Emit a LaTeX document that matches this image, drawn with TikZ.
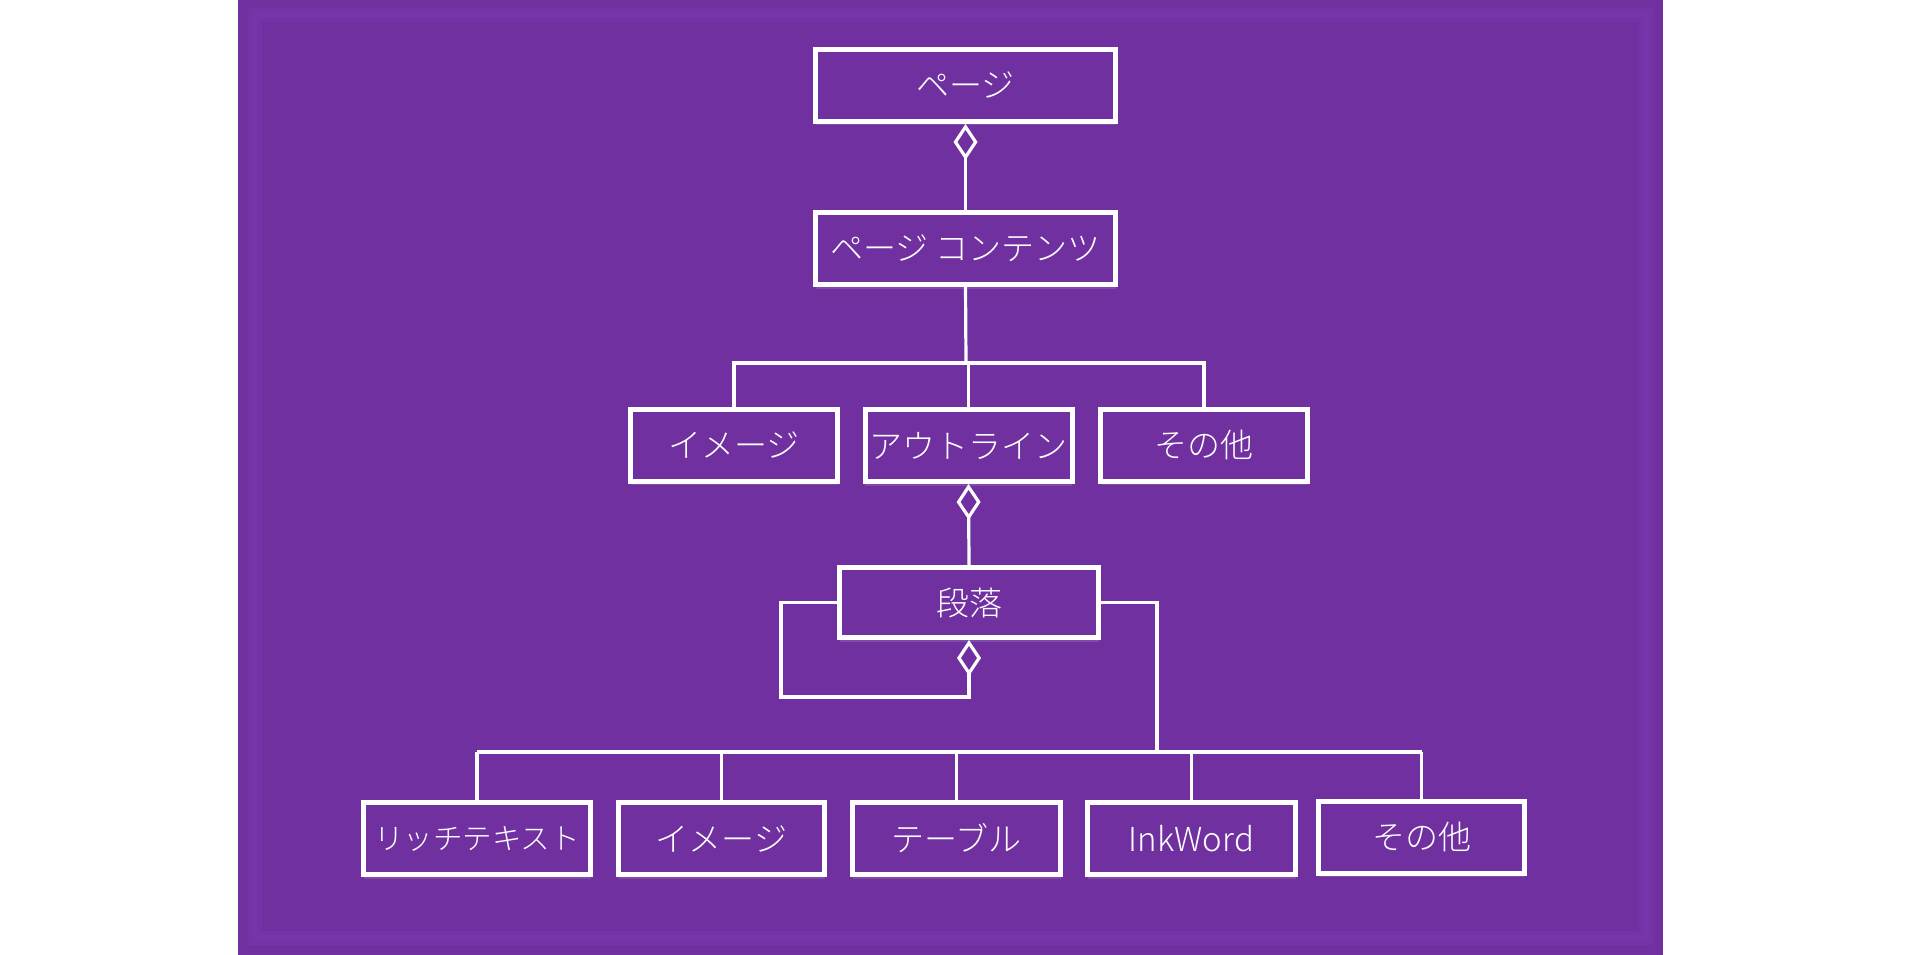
\documentclass[tikz,border=0pt]{standalone}
\usepackage{fontspec}
\setmainfont{Noto Sans CJK JP}[UprightFont={* Light}]
\usetikzlibrary{arrows.meta,shadows}
\definecolor{bgpurple}{HTML}{7030A0}
\definecolor{edgepurple}{HTML}{7E3AB6}

\begin{document}
\begin{tikzpicture}[x=1pt, y=-1pt,
  box/.style={draw=white, line width=5pt, fill=bgpurple, text=white,
    minimum height=72pt, inner sep=0pt, font=\fontsize{33}{40}\selectfont,
    drop shadow={shadow xshift=0pt, shadow yshift=-4pt, fill=white, opacity=0.12}},
  link/.style={draw=white, line width=3.2pt},
  agg/.style={link, {Diamond[open, width=24pt, length=36pt]}-}]
\useasboundingbox (0,0) rectangle (1905,955);
\fill[bgpurple] (238,0) rectangle (1663,955);
\draw[edgepurple, line width=14pt, opacity=0.3] (255,15) rectangle (1646,938);
\draw[edgepurple, line width=6pt, opacity=0.3] (255,15) rectangle (1646,938);

\node[box, minimum width=300pt] (page) at (965.5,85.5) {ページ};
\node[box, minimum width=300pt] (content) at (965.5,248.5) {ページ コンテンツ};

\node[box, minimum width=207pt] (image) at (734,445) {イメージ};
\node[box, minimum width=207pt] (outline) at (968.5,445.5) {アウトライン};
\node[box, minimum width=207pt] (other) at (1204,445) {その他};

\node[box, minimum width=259pt, minimum height=70pt] (para) at (969,602.5) {段落};

\node[box, minimum width=227pt, font=\fontsize{29.5}{36}\selectfont] (rich) at (477,838.5) {リッチテキスト};
\node[box, minimum width=206pt] (image2) at (721.5,838.5) {イメージ};
\node[box, minimum width=208pt] (table) at (956.5,838.5) {テーブル};
\node[box, minimum width=208pt] (inkword) at (1191.5,838.5) {InkWord};
\node[box, minimum width=206pt] (other2) at (1421.5,837) {その他};

\draw[agg] (page.south) -- (content.north);

\coordinate (tier) at (966,363);
\draw[link] (content.south) -- (tier);
\draw[link] (image.north) |- (tier) -| (other.north);
\draw[link] (outline.north) -- (outline.north |- tier);

\draw[agg] (outline.south) -- (para.north);

\coordinate (loop) at (781,697);
\draw[agg] (para.south) |- (loop) |- (para.west);

\coordinate (drop) at (1157,752);
\draw[link] (para.east) -| (drop);
\draw[link] (rich.north |- drop) -- (other2.north |- drop);
\foreach \n in {rich,image2,table,inkword,other2}
  \draw[link] (\n.north) -- (\n.north |- drop);
\end{tikzpicture}
\end{document}
